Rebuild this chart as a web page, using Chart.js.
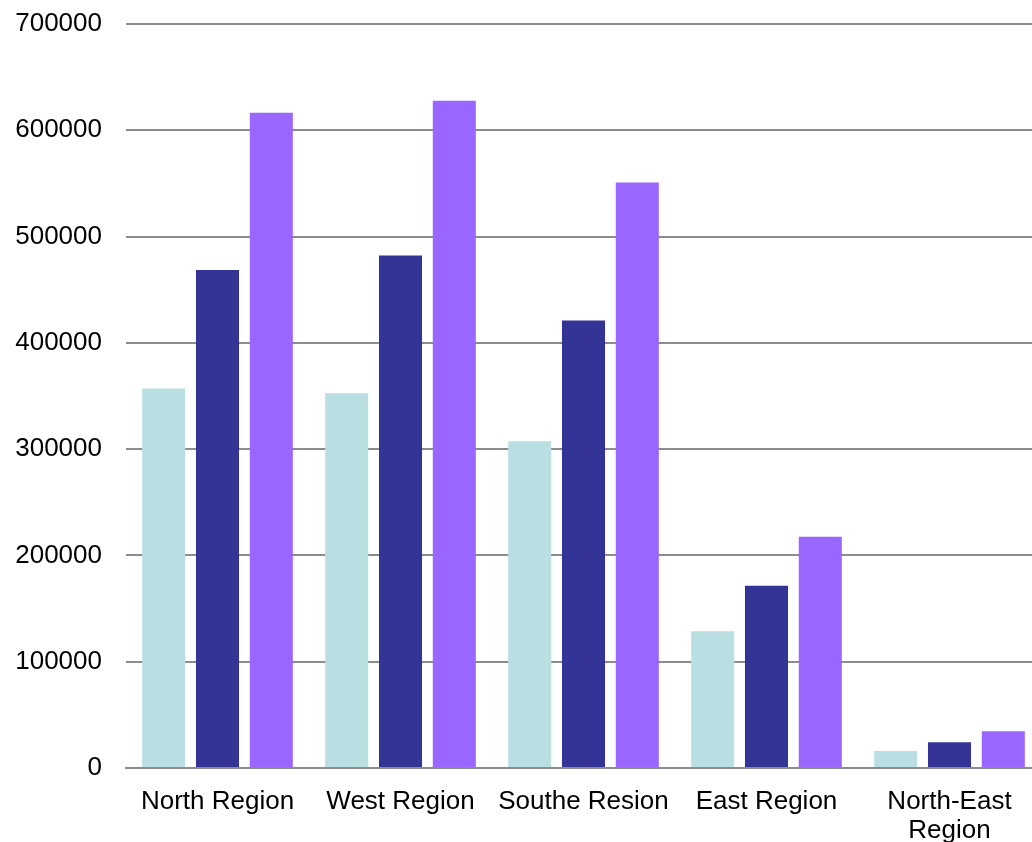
<!DOCTYPE html>
<html>
<head>
<meta charset="utf-8">
<script src="https://cdn.jsdelivr.net/npm/chart.js@4/dist/chart.umd.min.js"></script>
<style>
  html, body { margin: 0; padding: 0; background: #fff; overflow: hidden; }
  #wrap { width: 1041px; height: 842px; position: relative; }
</style>
</head>
<body>
<div id="wrap"><canvas id="grafico"></canvas></div>
<script>
// Datos del gráfico
const regiones = ['North Region', 'West Region', 'Southe Resion', 'East Region', ['North-East', 'Region']];
const serieClara = [357000, 352500, 307500, 128700, 16000];
const serieOscura = [468600, 482100, 421000, 171400, 24200];
const serieMorada = [616500, 627800, 550800, 217500, 34600];
const ticksY = [0, 100000, 200000, 300000, 400000, 500000, 600000, 700000];

const fuente = { family: "'Liberation Sans', Arial, sans-serif", size: 26 };

new Chart(document.getElementById('grafico').getContext('2d'), {
    type: 'bar',
    data: {
        labels: regiones,
        datasets: [
            { label: 'Serie 1', data: serieClara, backgroundColor: '#badfe2' },
            { label: 'Serie 2', data: serieOscura, backgroundColor: '#343497' },
            { label: 'Serie 3', data: serieMorada, backgroundColor: '#9966ff' }
        ]
    },
    options: {
        responsive: true,
        maintainAspectRatio: false,
        animation: false,
        datasets: {
            bar: { categoryPercentage: 0.882, barPercentage: 0.8 }
        },
        layout: { padding: { top: 24, left: 0, right: 0, bottom: 0 } },
        plugins: {
            legend: { display: false },
            tooltip: { enabled: false }
        },
        scales: {
            x: {
                grid: { display: false, drawTicks: false },
                border: { display: true, color: '#8c8c8c', width: 2 },
                ticks: {
                    color: '#000',
                    font: { ...fuente, lineHeight: 1.12 },
                    padding: 19,
                    maxRotation: 0,
                    autoSkip: false
                },
                afterFit: (escala) => { escala.height = 74; }
            },
            y: {
                min: 0,
                max: 700000,
                afterBuildTicks: (escala) => {
                    escala.ticks = ticksY.map(v => ({ value: v }));
                },
                grid: { color: '#8c8c8c', lineWidth: 2, drawTicks: false },
                border: { display: false },
                ticks: {
                    color: '#000',
                    font: fuente,
                    padding: 24,
                    callback: (v) => String(v)
                },
                afterFit: (escala) => {
                    escala.width = 126;
                    escala.paddingTop = 0;
                    escala.paddingBottom = 0;
                }
            }
        }
    }
});
</script>
</body>
</html>
